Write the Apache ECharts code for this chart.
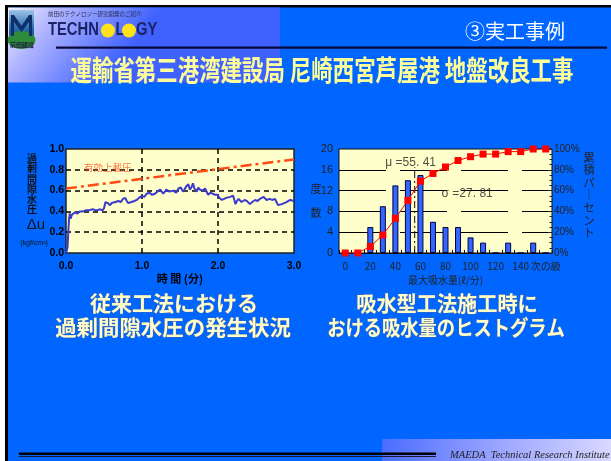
<!DOCTYPE html>
<html><head><meta charset="utf-8">
<script src="https://cdn.jsdelivr.net/npm/echarts@6/dist/echarts.min.js"></script>
<style>html,body{margin:0;padding:0;background:#fff;}#c{width:611px;height:461px;}</style>
</head><body><div id="c"></div>
<script>
// ---- left chart: excess pore water pressure ----
const pressureTime = [0,0.02,0.03,0.04,0.05,0.06,0.08,0.1,0.12,0.15,0.18,0.22,0.26,0.3,0.35,0.4,0.45,0.48,0.5,0.52,0.55,0.58,0.6,0.62,0.65,0.69,0.72,0.75,0.78,0.8,0.82,0.86,0.9,0.93,0.96,1.0,1.03,1.06,1.1,1.13,1.17,1.2,1.24,1.28,1.32,1.36,1.41,1.45,1.48,1.51,1.54,1.56,1.58,1.61,1.63,1.65,1.67,1.69,1.72,1.74,1.76,1.8,1.83,1.87,1.9,1.92,1.96,1.99,2.02,2.05,2.08,2.11,2.16,2.2,2.23,2.25,2.27,2.31,2.35,2.38,2.42,2.45,2.49,2.52,2.55,2.6,2.64,2.68,2.71,2.75,2.77,2.79,2.84,2.87,2.9,2.95,3.0];
const pressureValue = [0,0.05,0.2,0.33,0.38,0.33,0.37,0.36,0.39,0.38,0.40,0.40,0.41,0.41,0.42,0.41,0.42,0.41,0.43,0.49,0.48,0.46,0.48,0.47,0.49,0.50,0.49,0.52,0.53,0.50,0.48,0.49,0.50,0.51,0.53,0.55,0.54,0.57,0.58,0.56,0.57,0.59,0.61,0.57,0.61,0.59,0.60,0.58,0.62,0.63,0.59,0.61,0.64,0.66,0.61,0.63,0.67,0.62,0.59,0.63,0.61,0.60,0.62,0.56,0.58,0.59,0.56,0.56,0.53,0.51,0.52,0.53,0.54,0.55,0.47,0.50,0.52,0.49,0.51,0.50,0.47,0.49,0.51,0.50,0.52,0.54,0.51,0.52,0.51,0.52,0.49,0.46,0.47,0.48,0.49,0.51,0.50];
const loadTime = [0, 3.0];
const loadValue = [0.62, 0.90];
const leftYTicks = ['0.0','0.2','0.4','0.6','0.8','1.0'];
const leftXTicks = ['0.0','1.0','2.0','3.0'];
// ---- right chart: histogram of water absorption ----
const absorptionCats = ['0','10','20','30','40','50','60','70','80','90','100','110','120','130','140','150','次の級'];
const frequency = [0,0,5,9,13,14,15,6,5,5,3,2,0,2,0,2,0];
const cumulativePct = [0,0,6.2,17.3,33.3,50.6,69.1,76.5,82.7,88.9,92.6,95.1,95.1,97.5,97.5,100,100];
const meanValue = 55.41;
const meanLabel = 'μ =55. 41';
const sigmaLabel = 'σ =27. 81';

const JP = '"Noto Sans CJK JP", "Noto Sans", sans-serif';
const EN = '"Liberation Sans", Arial, sans-serif';

const chart = echarts.init(document.getElementById('c'));

function fitScale(text, font, target) {
  const ctx = document.createElement('canvas').getContext('2d');
  ctx.font = font;
  const w = ctx.measureText(text).width;
  return w > 0 ? target / w : 1;
}

function txt(x, y, text, opt) {
  opt = opt || {};
  return {
    type: 'text', x: x, y: y, z: opt.z || 5, scaleX: opt.scaleX || 1,
    style: Object.assign({
      text: text, x: 0, y: 0, textAlign: 'center', textVerticalAlign: 'middle', verticalAlign: 'middle',
      fontFamily: JP, fontSize: 12, fill: '#000'
    }, opt.style || {})
  };
}
const capStyle = (fs) => ({fontSize: fs, fontWeight: 'bold', fill: '#ffffcc', stroke: '#6b6b8a', lineWidth: 0.6,
  textShadowColor: 'rgba(30,30,80,0.85)', textShadowOffsetX: 2, textShadowOffsetY: 2, textShadowBlur: 0});

const titleText = '運輸省第三港湾建設局 尼崎西宮芦屋港 地盤改良工事';
const titleScale = fitScale(titleText, 'bold 28px "Noto Sans CJK JP"', 503);

const graphics = [
  {type: 'rect', z: -10, shape: {x: 0, y: 0, width: 611, height: 5}, style: {fill: '#ffffff'}},
  {type: 'rect', z: -10, shape: {x: 0, y: 0, width: 5, height: 461}, style: {fill: '#ffffff'}},
  {type: 'rect', z: -9, shape: {x: 5, y: 5, width: 606, height: 2.5}, style: {fill: '#000000'}},
  {type: 'rect', z: -9, shape: {x: 5, y: 5, width: 3, height: 456}, style: {fill: '#000000'}},
  {type: 'rect', z: -8, shape: {x: 8, y: 7.5, width: 272, height: 75},
    style: {fill: new echarts.graphic.LinearGradient(0, 0, 0.35, 1, [
      {offset: 0, color: '#f4f4ff'}, {offset: 0.35, color: '#b0b4ff'}, {offset: 1, color: '#3f62ff'}])}},
  {type: 'rect', z: 1, shape: {x: 9, y: 10, width: 25, height: 30},
    style: {fill: new echarts.graphic.LinearGradient(0, 0, 0, 1, [
      {offset: 0, color: '#9ec4e8'}, {offset: 0.6, color: '#2a6db0'}, {offset: 1, color: '#1a4a80'}])}},
  {type: 'ellipse', z: 2, shape: {cx: 21.5, cy: 40, rx: 14, ry: 9}, style: {fill: '#2e8b3a'}},
  {type: 'polygon', z: 3, shape: {points: [[11,36],[11,15],[14,15],[21.5,26],[29,15],[32,15],[32,36],[29,36],[29,22],[21.5,32],[14,22],[14,36]]},
    style: {fill: '#0d2f6b'}},
  txt(22, 45, '前田建設', {style: {fontSize: 6, fontWeight: 'bold', fill: '#1a1a40'}}),
  txt(48, 14, '前田のテクノロジー研究開発のご紹介', {style: {fontSize: 5.5, fill: '#2a2a50', textAlign: 'left'}}),
  txt(48, 30.5, 'TECHN', {scaleX: 0.82, style: {fontFamily: EN, fontSize: 18, fontWeight: 'bold', fill: '#1c2266', textAlign: 'left'}}),
  {type: 'circle', z: 5, shape: {cx: 108, cy: 30.5, r: 7}, style: {fill: '#ffe31a'}},
  txt(115.5, 30.5, 'L', {scaleX: 0.82, style: {fontFamily: EN, fontSize: 18, fontWeight: 'bold', fill: '#1c2266', textAlign: 'left'}}),
  {type: 'circle', z: 5, shape: {cx: 129, cy: 30.5, r: 7}, style: {fill: '#ffe31a'}},
  txt(136, 30.5, 'GY', {scaleX: 0.82, style: {fontFamily: EN, fontSize: 18, fontWeight: 'bold', fill: '#1c2266', textAlign: 'left'}}),
  {type: 'rect', z: 2, shape: {x: 56, y: 46.5, width: 551, height: 2.2}, style: {fill: '#0a0a3a'}},
  txt(515, 31, '③実工事例', {style: {fontSize: 20, fill: '#ffffff'}}),
  txt(322, 70, titleText, {scaleX: titleScale, style: {fontSize: 28, fontWeight: 'bold', fill: '#ffff99',
    textShadowColor: 'rgba(40,40,70,0.9)', textShadowOffsetX: 2, textShadowOffsetY: 2, textShadowBlur: 0}}),
  txt(32, 153, '過\n剰\n間\n隙\n水\n圧', {style: {fontSize: 10, fontWeight: 'bold', fill: '#111', textVerticalAlign: 'top', verticalAlign: 'top', lineHeight: 10.3}}),
  txt(36, 225, 'Δu', {style: {fontFamily: EN, fontSize: 15, fill: '#111'}}),
  txt(34, 243, '(kgf/cm²)', {style: {fontFamily: EN, fontSize: 7, fill: '#111'}}),
  txt(316, 189, '度', {style: {fontSize: 11, fill: '#222'}}),
  txt(316, 213, '数', {style: {fontSize: 11, fill: '#222'}}),
  txt(589, 151, '累\n積\nパ\n｜\nセ\nン\nト', {style: {fontSize: 11.5, fill: '#222', textVerticalAlign: 'top', verticalAlign: 'top', lineHeight: 12.6}}),
  txt(174, 303, '従来工法における', {style: capStyle(21)}),
  txt(173, 327, '過剰間隙水圧の発生状況', {scaleX: 1.02, style: capStyle(21)}),
  txt(447, 303, '吸水型工法施工時に', {scaleX: 0.96, style: capStyle(21)}),
  txt(446, 327, 'おける吸水量のヒストグラム', {scaleX: 0.87, style: capStyle(21)}),
  {type: 'rect', z: -8, shape: {x: 382, y: 439, width: 229, height: 22},
    style: {fill: new echarts.graphic.LinearGradient(0, 0, 1, 0.4, [
      {offset: 0, color: '#4a6cff'}, {offset: 0.5, color: '#9aa4ff'}, {offset: 1, color: '#d8d8ff'}])}},
  {type: 'rect', z: 2, shape: {x: 19, y: 452.5, width: 417, height: 2.5}, style: {fill: '#000000'}},
  {type: 'rect', z: 2, shape: {x: 19, y: 456, width: 417, height: 1}, style: {fill: '#1a1a30'}},
  txt(450, 455, 'MAEDA  Technical Research Institute', {style: {fontFamily: '"Liberation Serif", "DejaVu Serif", serif', fontStyle: 'italic', fontSize: 10.5, fill: '#222', textAlign: 'left'}})
];

const dashBlack = {color: '#000', width: 1.5, type: [5, 4]};

const option = {
  backgroundColor: '#0066ff',
  animation: false,
  graphic: graphics,
  grid: [
    {left: 66, top: 149, width: 228, height: 104, show: true, backgroundColor: '#ffffcc', borderColor: '#222', borderWidth: 1.5, containLabel: false},
    {left: 339, top: 149, width: 213, height: 104, show: true, backgroundColor: '#ffffcc', borderColor: '#111', borderWidth: 1, containLabel: false}
  ],
  xAxis: [
    {type: 'value', gridIndex: 0, min: 0, max: 3, interval: 1,
      axisLine: {show: false}, axisTick: {show: false},
      axisLabel: {margin: 8, color: '#000', fontFamily: EN, fontSize: 10.5, fontWeight: 'bold', formatter: (v) => leftXTicks[Math.round(v)]},
      splitLine: {show: true, showMinLine: false, showMaxLine: false, lineStyle: dashBlack},
      name: '時 間 (分)', nameLocation: 'middle', nameGap: 18,
      nameTextStyle: {color: '#000', fontFamily: JP, fontSize: 11, fontWeight: 'bold'}},
    {type: 'category', gridIndex: 1, data: absorptionCats, boundaryGap: true,
      axisLine: {show: true, lineStyle: {color: '#111', width: 1}},
      axisTick: {show: true, inside: true, length: 3, interval: 0, lineStyle: {color: '#111'}},
      axisLabel: {margin: 8, color: '#222', fontFamily: JP, fontSize: 10, interval: (i) => i % 2 === 0,
        showMaxLabel: true, showMinLabel: true, hideOverlap: false},
      name: '最大吸水量(ℓ/分)', nameLocation: 'middle', nameGap: 22,
      nameTextStyle: {color: '#222', fontFamily: JP, fontSize: 10}},
    {type: 'value', gridIndex: 1, min: -5, max: 165, show: false}
  ],
  yAxis: [
    {type: 'value', gridIndex: 0, min: 0, max: 1, interval: 0.2,
      axisLine: {show: false}, axisTick: {show: false},
      axisLabel: {margin: 2, color: '#000', fontFamily: EN, fontSize: 10.5, fontWeight: 'bold', formatter: (v) => leftYTicks[Math.round(v * 5)]},
      splitLine: {show: true, showMinLine: false, showMaxLine: false, lineStyle: dashBlack}},
    {type: 'value', gridIndex: 1, min: 0, max: 20, interval: 4,
      axisLine: {show: false}, axisTick: {show: false},
      axisLabel: {margin: 6, color: '#222', fontFamily: EN, fontSize: 11},
      splitLine: {show: true, showMinLine: false, showMaxLine: false, lineStyle: {color: '#000', width: 1, type: [47, 14]}}},
    {type: 'value', gridIndex: 1, min: 0, max: 100, interval: 20, position: 'right',
      axisLine: {show: false},
      axisTick: {show: true, inside: true, length: 4, lineStyle: {color: '#222'}},
      minorTick: {show: true, splitNumber: 4, length: 2.5, lineStyle: {color: '#222'}},
      axisLabel: {margin: 2, color: '#222', fontFamily: EN, fontSize: 10, formatter: '{value}%'},
      splitLine: {show: false}}
  ],
  series: [
    {type: 'line', name: '有効上載圧', xAxisIndex: 0, yAxisIndex: 0, symbol: 'none', z: 3,
      data: loadTime.map((t, i) => [t, loadValue[i]]),
      lineStyle: {color: '#ff4a10', width: 2.5, type: [11, 4, 3, 4]}},
    {type: 'line', name: '過剰間隙水圧', xAxisIndex: 0, yAxisIndex: 0, symbol: 'none', z: 4,
      data: pressureTime.map((t, i) => [t, pressureValue[i]]),
      lineStyle: {color: '#3a3acc', width: 2}},
    {type: 'scatter', xAxisIndex: 0, yAxisIndex: 0, symbolSize: 0, z: 5, silent: true,
      data: [[0.55, 0.82]],
      label: {show: true, position: 'inside', formatter: '有効上載圧', color: '#ff5020', fontFamily: JP, fontSize: 9.5}},
    {type: 'bar', name: '度数', xAxisIndex: 1, yAxisIndex: 1, barWidth: 6, z: 3,
      data: frequency,
      itemStyle: {color: '#3366ff', borderColor: '#000044', borderWidth: 1}},
    {type: 'line', name: '累積パーセント', xAxisIndex: 1, yAxisIndex: 2, z: 6,
      data: cumulativePct, symbol: 'rect', symbolSize: 7,
      itemStyle: {color: '#ff0000'}, lineStyle: {color: '#ff0000', width: 1}},
    {type: 'line', name: 'mean', xAxisIndex: 2, yAxisIndex: 1, symbol: 'none', z: 4,
      data: [[meanValue, 0], [meanValue, 16.5]],
      lineStyle: {color: '#111', width: 1, type: [7, 3, 2, 3]}},
    {type: 'scatter', xAxisIndex: 2, yAxisIndex: 1, symbolSize: 0, z: 7, silent: true,
      data: [{value: [52.2, 17.3], name: meanLabel}, {value: [97.3, 11.5], name: sigmaLabel}],
      label: {show: true, position: 'inside', formatter: (p) => p.name, color: '#222', fontFamily: EN, fontSize: 12}}
  ]
};
chart.setOption(option);
</script>
</body></html>
